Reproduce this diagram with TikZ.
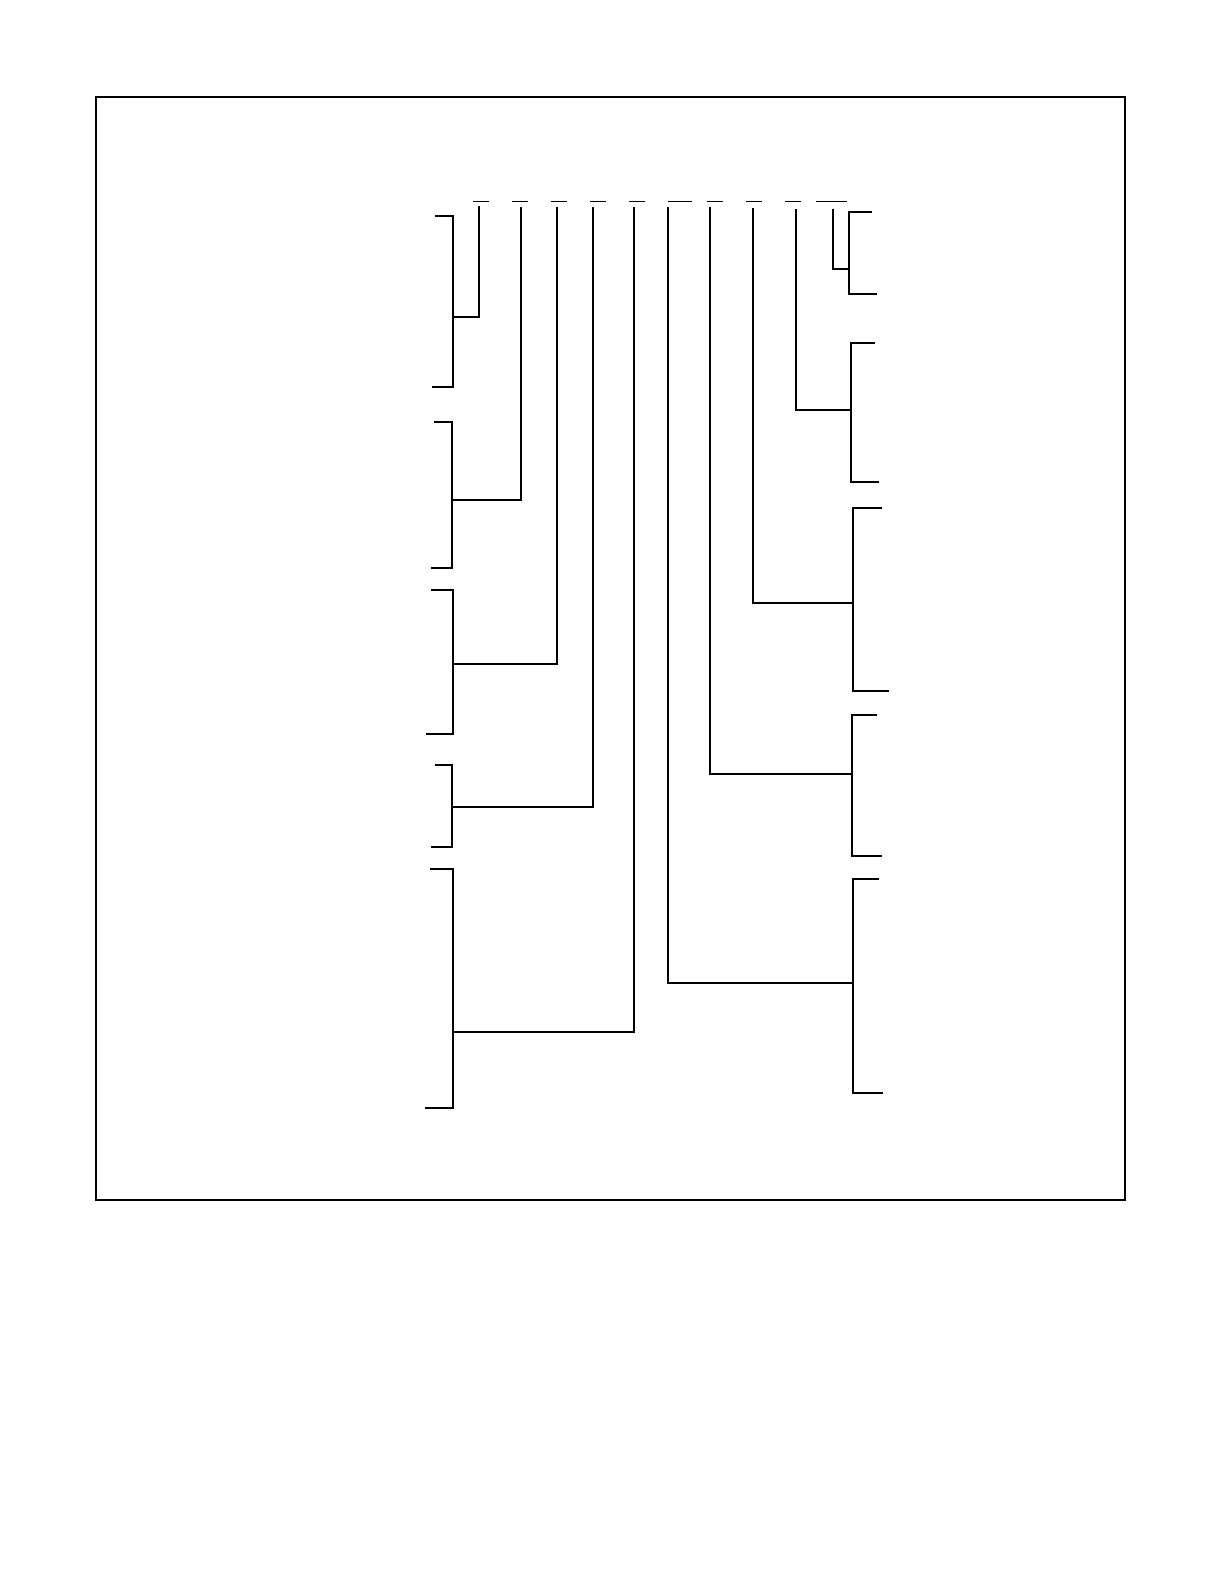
\documentclass[tikz,border=0pt]{standalone}
\usepackage{tikz}
\tikzset{bar/.style={line width=1.25bp}, slim/.style={line width=0.65bp}, blank/.style={line width=0.5bp}}

\begin{document}
\begin{tikzpicture}[x=0.5bp, y=-0.5bp]
    \useasboundingbox (0,0) rectangle (1224,1584);
    \draw [bar] (96,97) rectangle (1125,1200);
    % blanks of the code
    \draw [blank] (473,201) -- (489,201);
    \draw [blank] (512,201) -- (528,201);
    \draw [blank] (551,201) -- (567,201);
    \draw [blank] (590,201) -- (606,201);
    \draw [blank] (629,201) -- (645,201);
    \draw [blank] (668,201) -- (692,201);
    \draw [blank] (707,201) -- (723,201);
    \draw [blank] (746,201) -- (762,201);
    \draw [blank] (785,201) -- (801,201);
    \draw [blank] (816,201) -- (847,201);
    \coordinate (c1) at (479,206);
    \coordinate (c2) at (521,207);
    \coordinate (c3) at (557,207);
    \coordinate (c4) at (593,207);
    \coordinate (c5) at (634,207);
    \coordinate (c6) at (668,207);
    \coordinate (c7) at (710,207);
    \coordinate (c8) at (753,208);
    \coordinate (c9) at (796,209);
    \coordinate (c10) at (833,209);
    % left brackets
    \draw [bar] (435,216) -- (453,216) -- (453,387) -- (432,387);
    \draw [bar] (434,422) -- (452,422) -- (452,568) -- (431,568);
    \draw [bar] (431,590) -- (453,590) -- (453,734) -- (426,734);
    \draw [bar] (435,765) -- (452,765) -- (452,847) -- (431,847);
    \draw [bar] (430,869) -- (453,869) -- (453,1108) -- (425,1108);
    \coordinate (l1) at (453,317);
    \coordinate (l2) at (452,500);
    \coordinate (l3) at (453,664);
    \coordinate (l4) at (452,807);
    \coordinate (l5) at (453,1032);
    % right brackets
    \draw [bar] (872,212) -- (849,212) -- (849,294) -- (877,294);
    \draw [bar] (875,343) -- (851,343) -- (851,482) -- (879,482);
    \draw [bar] (882,508) -- (853,508) -- (853,691) -- (889,691);
    \draw [bar] (877,715) -- (852,715) -- (852,856) -- (882,856);
    \draw [bar] (879,879) -- (853,879) -- (853,1093) -- (883,1093);
    \coordinate (r1) at (849,269);
    \coordinate (r2) at (851,410);
    \coordinate (r3) at (853,603);
    \coordinate (r4) at (852,774);
    \coordinate (r5) at (853,983);
    % leaders
    \draw [slim] (c1) |- (l1);
    \draw [bar] (c2) |- (l2);
    \draw [bar] (c3) |- (l3);
    \draw [bar] (c4) |- (l4);
    \draw [bar] (c5) |- (l5);
    \draw [bar] (c6) |- (r5);
    \draw [bar] (c7) |- (r4);
    \draw [bar] (c8) |- (r3);
    \draw [bar] (c9) |- (r2);
    \draw [slim] (c10) |- (r1);
\end{tikzpicture}
\end{document}
